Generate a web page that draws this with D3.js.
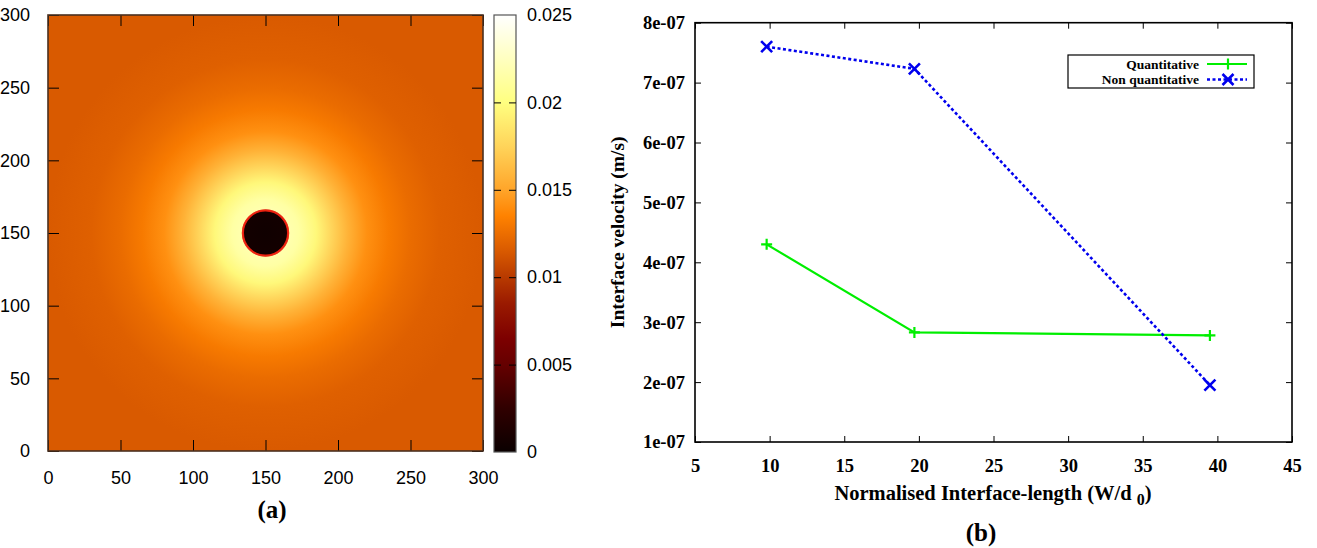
<!DOCTYPE html>
<html>
<head>
<meta charset="utf-8">
<script src="https://cdn.jsdelivr.net/npm/d3@7"></script>
<style>
  body { margin: 0; background: #fff; }
  svg { display: block; }
  .sans text { font-family: "Liberation Sans", Arial, sans-serif; }
  .serif text, text.serif { font-family: "Liberation Serif", "Times New Roman", serif; font-weight: bold; }
</style>
</head>
<body>
<svg id="fig" width="1317" height="548"></svg>
<script>
// ---- panel (a): radial concentration profile ----
const profileRadius = [0, 14.8, 15.4, 16.6, 23, 35, 45, 57, 70, 85, 100, 120, 150, 215];
const profileValue  = [0.0004, 0.0006, 0.0085, 0.0218, 0.0214, 0.0196, 0.0177, 0.0157, 0.0141, 0.0131, 0.0124, 0.0118, 0.0115, 0.0115];
const interfaceRadius = 15.6;
const centre = [150, 150];

// colour palette (value -> colour)
const paletteValue = [0, 0.0025, 0.005, 0.0065, 0.0085, 0.01, 0.0115, 0.0135, 0.015, 0.0175, 0.02, 0.0225, 0.025];
const paletteColor = ["#0a0000", "#300000", "#650000", "#7d0000", "#9a1a00", "#b83a00", "#d95a00", "#ff8200", "#ffa52a", "#ffd45a", "#ffff80", "#ffffc0", "#ffffff"];

const mapTicks = [0, 50, 100, 150, 200, 250, 300];
const barTicks = [0, 0.005, 0.01, 0.015, 0.02, 0.025];

// ---- panel (b): interface velocity ----
const lengths = [9.8, 19.7, 39.5];
const quantitative = [4.3e-7, 2.83e-7, 2.78e-7];
const nonQuantitative = [7.6e-7, 7.23e-7, 1.95e-7];
const xTicks = [5, 10, 15, 20, 25, 30, 35, 40, 45];
const yTicks = [1e-7, 2e-7, 3e-7, 4e-7, 5e-7, 6e-7, 7e-7, 8e-7];

const svg = d3.select("#fig");
const defs = svg.append("defs");

const color = d3.scaleLinear().domain(paletteValue).range(paletteColor).clamp(true);

// ================= panel (a) =================
const ga = svg.append("g").attr("class", "sans");
const mx = d3.scaleLinear().domain([0, 300]).range([48, 483]);
const my = d3.scaleLinear().domain([0, 300]).range([451, 15]);
const unit = mx(1) - mx(0);

const rMax = d3.max(profileRadius);
const rg = defs.append("radialGradient")
  .attr("id", "field")
  .attr("gradientUnits", "userSpaceOnUse")
  .attr("cx", mx(centre[0])).attr("cy", my(centre[1]))
  .attr("r", rMax * unit);
rg.selectAll("stop")
  .data(profileRadius.map((r, i) => ({ r, v: profileValue[i] })))
  .join("stop")
  .attr("offset", d => d.r / rMax)
  .attr("stop-color", d => color(d.v));

ga.append("rect")
  .attr("x", mx(0)).attr("y", my(300))
  .attr("width", mx(300) - mx(0)).attr("height", my(0) - my(300))
  .attr("fill", "url(#field)");

ga.append("circle")
  .attr("cx", mx(centre[0])).attr("cy", my(centre[1]))
  .attr("r", interfaceRadius * unit)
  .attr("fill", "none")
  .attr("stroke", "#f42010")
  .attr("stroke-width", 2.2)
  .attr("stroke-opacity", 0.9);

function styleAxis(g, size) {
  g.select(".domain").remove();
  g.selectAll(".tick line").attr("stroke", "#000").attr("stroke-width", 1);
  g.selectAll(".tick text").attr("font-size", size).attr("fill", "#000");
}

ga.append("g").attr("transform", `translate(0,${my(0)})`)
  .call(d3.axisBottom(mx).tickValues(mapTicks).tickSize(-11).tickPadding(20))
  .call(g => styleAxis(g, 18));
ga.append("g").attr("transform", `translate(0,${my(300)})`)
  .call(d3.axisTop(mx).tickValues(mapTicks).tickSize(-11).tickFormat(""))
  .call(g => styleAxis(g, 18));
ga.append("g").attr("transform", `translate(${mx(0)},0)`)
  .call(d3.axisLeft(my).tickValues(mapTicks).tickSize(-11).tickPadding(18))
  .call(g => styleAxis(g, 18));
ga.append("g").attr("transform", `translate(${mx(300)},0)`)
  .call(d3.axisRight(my).tickValues(mapTicks).tickSize(-11).tickFormat(""))
  .call(g => styleAxis(g, 18));
ga.append("rect")
  .attr("x", mx(0)).attr("y", my(300))
  .attr("width", mx(300) - mx(0)).attr("height", my(0) - my(300))
  .attr("fill", "none").attr("stroke", "#4a3020").attr("stroke-width", 1.6);

// colour bar
const cb = d3.scaleLinear().domain([0, 0.025]).range([452, 15]);
const lg = defs.append("linearGradient").attr("id", "bar")
  .attr("x1", 0).attr("y1", 1).attr("x2", 0).attr("y2", 0);
lg.selectAll("stop")
  .data(paletteValue.map((v, i) => ({ v, c: paletteColor[i] })))
  .join("stop")
  .attr("offset", d => d.v / 0.025)
  .attr("stop-color", d => d.c);

const cbx0 = 494, cbx1 = 516;
ga.append("rect")
  .attr("x", cbx0).attr("y", cb(0.025))
  .attr("width", cbx1 - cbx0).attr("height", cb(0) - cb(0.025))
  .attr("fill", "url(#bar)")
  .attr("stroke", "#555").attr("stroke-width", 1.2);
const inner = barTicks.filter(d => d > 0 && d < 0.025);
ga.append("g").attr("transform", `translate(${cbx1},0)`)
  .call(d3.axisRight(cb).tickValues(barTicks).tickSize(0).tickPadding(11).tickFormat(d => d3.format("")(+d.toFixed(3))))
  .call(g => styleAxis(g, 18));
[cbx0, cbx1].forEach((bx, k) => {
  ga.append("g").attr("transform", `translate(${bx},0)`)
    .call((k ? d3.axisRight(cb) : d3.axisLeft(cb)).tickValues(inner).tickSize(-7).tickFormat(""))
    .call(g => styleAxis(g, 18));
});

svg.append("text").attr("class", "serif")
  .attr("x", 272).attr("y", 518).attr("text-anchor", "middle")
  .attr("font-size", 25).text("(a)");

// ================= panel (b) =================
const gb = svg.append("g").attr("class", "serif");
const x = d3.scaleLinear().domain([5, 45]).range([695, 1292]);
const y = d3.scaleLinear().domain([1e-7, 8e-7]).range([442, 22.7]);
const yFmt = d => d3.format(".0e")(d).replace("e-7", "e-07");

gb.append("g").attr("transform", `translate(0,${y(1e-7)})`)
  .call(d3.axisBottom(x).tickValues(xTicks).tickSize(-6).tickPadding(17))
  .call(g => styleAxis(g, 18.5));
gb.append("g").attr("transform", `translate(0,${y(8e-7)})`)
  .call(d3.axisTop(x).tickValues(xTicks).tickSize(-6).tickFormat(""))
  .call(g => styleAxis(g, 18.5));
gb.append("g").attr("transform", `translate(${x(5)},0)`)
  .call(d3.axisLeft(y).tickValues(yTicks).tickSize(-6).tickPadding(10).tickFormat(yFmt))
  .call(g => styleAxis(g, 18.5));
gb.append("g").attr("transform", `translate(${x(45)},0)`)
  .call(d3.axisRight(y).tickValues(yTicks).tickSize(-6).tickFormat(""))
  .call(g => styleAxis(g, 18.5));
gb.append("rect")
  .attr("x", x(5)).attr("y", y(8e-7))
  .attr("width", x(45) - x(5)).attr("height", y(1e-7) - y(8e-7))
  .attr("fill", "none").attr("stroke", "#000").attr("stroke-width", 1.6);

const line = d3.line().x(d => x(d[0])).y(d => y(d[1]));
const qPts = lengths.map((l, i) => [l, quantitative[i]]);
const nPts = lengths.map((l, i) => [l, nonQuantitative[i]]);

gb.append("path").attr("d", line(qPts))
  .attr("fill", "none").attr("stroke", "#00ee00").attr("stroke-width", 2.2);
gb.append("path").attr("d", line(nPts))
  .attr("fill", "none").attr("stroke", "#0000ee").attr("stroke-width", 2.6)
  .attr("stroke-dasharray", "3,2.5");

const plus = (cx, cy, s) => `M${cx - s},${cy}H${cx + s}M${cx},${cy - s}V${cy + s}`;
const cross = (cx, cy, s) => `M${cx - s},${cy - s}L${cx + s},${cy + s}M${cx - s},${cy + s}L${cx + s},${cy - s}`;

gb.selectAll("path.qm").data(qPts).join("path").attr("class", "qm")
  .attr("d", d => plus(x(d[0]), y(d[1]), 5.5))
  .attr("stroke", "#00ee00").attr("stroke-width", 2.2);
gb.selectAll("path.nm").data(nPts).join("path").attr("class", "nm")
  .attr("d", d => cross(x(d[0]), y(d[1]), 5.5))
  .attr("stroke", "#0000ee").attr("stroke-width", 2.6);

// legend
const leg = gb.append("g");
leg.append("rect").attr("x", 1068).attr("y", 55).attr("width", 186).attr("height", 33)
  .attr("fill", "#fff").attr("stroke", "#000").attr("stroke-width", 1.2);
const legItems = [
  { name: "Quantitative", col: "#00ee00", dash: null, mark: plus, sw: 2.2 },
  { name: "Non quantitative", col: "#0000ee", dash: "3,2.5", mark: cross, sw: 2.6 }
];
legItems.forEach((d, i) => {
  const ly = 64 + i * 15.5;
  leg.append("text").attr("x", 1199).attr("y", ly + 4.5).attr("text-anchor", "end")
    .attr("font-size", 13.5).text(d.name);
  leg.append("line").attr("x1", 1207).attr("x2", 1247).attr("y1", ly).attr("y2", ly)
    .attr("stroke", d.col).attr("stroke-width", d.sw).attr("stroke-dasharray", d.dash);
  leg.append("path").attr("d", d.mark(1228, ly, 5.5)).attr("stroke", d.col).attr("stroke-width", d.sw);
});

// axis titles
gb.append("text")
  .attr("transform", `translate(624,${(y(1e-7) + y(8e-7)) / 2}) rotate(-90)`)
  .attr("text-anchor", "middle").attr("font-size", 19.5)
  .text("Interface velocity (m/s)");
const xt = gb.append("text").attr("x", 993).attr("y", 500).attr("text-anchor", "middle").attr("font-size", 20.5);
xt.append("tspan").text("Normalised Interface-length (W/d ");
xt.append("tspan").attr("font-size", 16).attr("dy", 5).text("0");
xt.append("tspan").attr("dy", -5).text(")");

svg.append("text").attr("class", "serif")
  .attr("x", 981).attr("y", 541).attr("text-anchor", "middle")
  .attr("font-size", 25).text("(b)");
</script>
</body>
</html>
